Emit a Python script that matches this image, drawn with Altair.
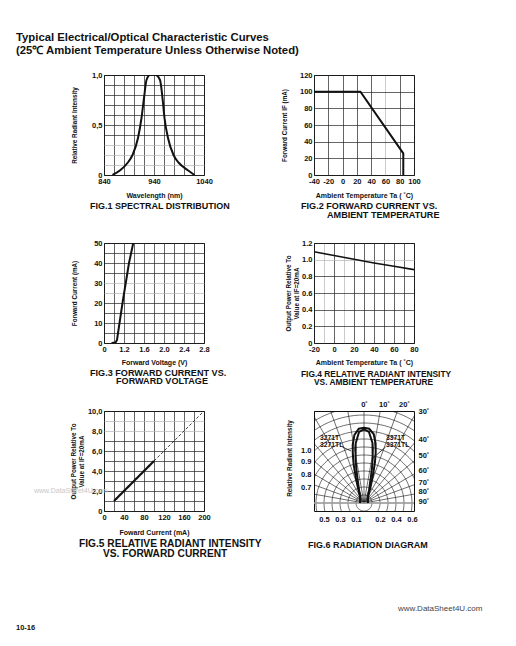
import json
import numpy as np
import pandas as pd
import altair as alt

FONT = "Liberation Sans"
INK = "#111111"
PALE = "#b4b4b4"

# ---------------- page texts ----------------
HEADING_1 = "Typical Electrical/Optical Characteristic Curves"
HEADING_2 = "(25\u2103 Ambient Temperature Unless Otherwise Noted)"
PAGE_NO = "10-16"
SITE = "www.DataSheet4U.com"

# ---------------- FIG.1 spectral distribution ----------------
F1_WL = [857, 873, 887, 897, 908, 915, 920, 925, 932, 943, 952, 957, 961, 968, 979, 990, 1007, 1021]
F1_I = [0, 0.05, 0.12, 0.2, 0.37, 0.57, 0.77, 0.95, 1.0, 1.0, 0.95, 0.77, 0.57, 0.37, 0.2, 0.12, 0.05, 0]
F1_XGRID = [840, 860, 880, 900, 920, 940, 960, 980, 1000, 1020, 1040]
F1_XLV = [840, 940, 1040]
F1_XL = ["840", "940", "1040"]
F1_YGRID = [0, 0.1, 0.2, 0.3, 0.4, 0.5, 0.6, 0.7, 0.8, 0.9, 1.0]
F1_YLV = [0, 0.5, 1.0]
F1_YL = ["0", "0,5", "1,0"]
F1_YPALE = [0.1, 0.2, 0.3]

# ---------------- FIG.2 forward current vs ambient temperature ----------------
F2_T = [-40, 25, 85, 85]
F2_IF = [100, 100, 26, 0]
F2_XGRID = [-40, -20, 0, 20, 40, 60, 80, 100]
F2_XL = ["-40", "-20", "0", "20", "40", "60", "80", "100"]
F2_XPALE = [60]
F2_YGRID = [0, 20, 40, 60, 80, 100, 120]
F2_YL = ["0", "20", "40", "60", "80", "100", "120"]

# ---------------- FIG.3 forward current vs forward voltage ----------------
F3_V = [0.95, 1.03, 1.06, 1.17, 1.30, 1.385]
F3_I = [0, 0.2, 1.5, 20, 40, 50]
F3_XGRID = [0.8, 1.0, 1.2, 1.4, 1.6, 1.8, 2.0, 2.2, 2.4, 2.6, 2.8]
F3_XLV = [0.8, 1.2, 1.6, 2.0, 2.4, 2.8]
F3_XL = ["0", "1.2", "1.6", "2.0", "2.4", "2.8"]
F3_YGRID = [0, 5, 10, 15, 20, 25, 30, 35, 40, 45, 50]
F3_YLV = [0, 10, 20, 30, 40, 50]
F3_YL = ["0", "10", "20", "30", "40", "50"]
F3_YPALE = [25, 30]

# ---------------- FIG.4 relative radiant intensity vs temperature ----------------
F4_T = [-20, 0, 20, 40, 60, 80]
F4_P = [1.095, 1.05, 1.005, 0.96, 0.92, 0.88]
F4_XGRID = [-20, -10, 0, 10, 20, 30, 40, 50, 60, 70, 80]
F4_XLV = [-20, 0, 20, 40, 60, 80]
F4_XL = ["-20", "0", "20", "40", "60", "80"]
F4_XPALE = [-10, 10]
F4_YGRID = [0, 0.2, 0.4, 0.6, 0.8, 1.0, 1.2]
F4_YL = ["0", "0.2", "0.4", "0.6", "0.8", "1.0", "1.2"]
F4_YPALE = [1.0]

# ---------------- FIG.5 relative radiant intensity vs forward current ----------------
F5_IF = [20, 100, 100, 200]
F5_P = [1.0, 5.0, 5.0, 10.0]
F5_SEG = ["measured", "measured", "extrapolated", "extrapolated"]
F5_XGRID = [0, 20, 40, 60, 80, 100, 120, 140, 160, 180, 200]
F5_XLV = [0, 40, 80, 120, 160, 200]
F5_XL = ["0", "40", "80", "120", "160", "200"]
F5_YGRID = [0, 1, 2, 3, 4, 5, 6, 7, 8, 9, 10]
F5_YLV = [0, 2, 4, 6, 8, 10]
F5_YL = ["0", "2,0", "4,0", "6,0", "8,0", "10,0"]
F5_YPALE = [8, 9]

# ---------------- FIG.6 radiation diagram ----------------
F6_ANG = [-90, -45, -30, -22, -18, -15, -13, -11, -8, -4, 0, 4, 8, 11, 13, 15, 18, 22, 30, 45, 90]
F6_3271 = [0.05, 0.06, 0.10, 0.20, 0.33, 0.50, 0.62, 0.74, 0.86, 0.93, 0.94, 0.93, 0.87, 0.76, 0.65, 0.53, 0.36, 0.22, 0.11, 0.06, 0.05]
F6_3371 = [0.05, 0.07, 0.10, 0.16, 0.22, 0.31, 0.42, 0.55, 0.75, 0.89, 0.92, 0.89, 0.76, 0.57, 0.44, 0.33, 0.23, 0.17, 0.10, 0.07, 0.05]
F6_RINGS = [0.1, 0.2, 0.3, 0.4, 0.5, 0.6, 0.7, 0.8, 0.9, 1.0, 1.1, 1.2, 1.3, 1.4]
F6_SPOKES = [-90, -80, -70, -60, -50, -40, -30, -20, -10, 0, 10, 20, 30, 40, 50, 60, 70, 80, 90]
F6_BOTV = [-0.5, -0.3, -0.1, 0.2, 0.4, 0.6]
F6_BOTL = ["0.5", "0.3", "0.1", "0.2", "0.4", "0.6"]
F6_TOPV = [0.0, 0.25, 0.5]
F6_TOPL = ["0\u02da", "10\u02da", "20\u02da"]
F6_LEFTV = [0.66, 0.525, 0.36, 0.2]
F6_LEFTL = ["1.0", "0.9", "0.8", "0.7"]
F6_RIGHTV = [1.14, 0.79, 0.59, 0.41, 0.26, 0.14, 0.025]
F6_RIGHTL = ["30\u02da", "40\u02da", "50\u02da", "60\u02da", "70\u02da", "80\u02da", "90\u02da"]
F6_LBL_X = [-0.55, -0.55, 0.275, 0.275]
F6_LBL_Y = [0.81, 0.725, 0.81, 0.725]
F6_LBL = ["3271T", "3271TL", "3371T", "3371TL"]
F6_LEAD_X = [-0.27, 0.27]
F6_LEAD_Y = [0.70, 0.70]
F6_LEAD_X2 = [-0.16, 0.11]
F6_LEAD_Y2 = [0.65, 0.56]

W = H = 100


def lab_expr(vals, labs):
    v = json.dumps(vals)
    l = json.dumps(labs, ensure_ascii=False)
    return f"indexof({v}, datum.value) >= 0 ? {l}[indexof({v}, datum.value)] : ''"


def grid_color(pale):
    if not pale:
        return "#222222"
    return {"condition": {"test": f"indexof({json.dumps(pale)}, datum.value) >= 0", "value": PALE},
            "value": "#222222"}


def xaxis(grid, lv, ls, title, ty, pale=None):
    return alt.Axis(values=grid, labelExpr=lab_expr(lv, ls), title=title, titleX=W / 2, titleY=ty,
                    titleBaseline="middle", titleAlign="center", titleFontSize=7,
                    gridColor=grid_color(pale))


def yaxis(grid, lv, ls, title, tx, pale=None):
    return alt.Axis(values=grid, labelExpr=lab_expr(lv, ls), title=title, titleX=tx, titleY=H / 2,
                    titleAngle=270, titleBaseline="middle", titleAlign="center", titleFontSize=6.3,
                    gridColor=grid_color(pale))


def line(xs, ys, xdom, ydom, xax, yax, width=2.0, interp="linear"):
    df = pd.DataFrame({"x": xs, "y": ys, "i": list(range(len(xs)))})
    return alt.Chart(df).mark_line(color=INK, strokeWidth=width, interpolate=interp, clip=True).encode(
        x=alt.X("x:Q", scale=alt.Scale(domain=xdom, nice=False, zero=False), axis=xax),
        y=alt.Y("y:Q", scale=alt.Scale(domain=ydom, nice=False, zero=False), axis=yax),
        order="i:Q",
    )


def text(s, x, y, size=9.0, weight="bold", color=INK, align="left"):
    return alt.Chart(pd.DataFrame({"t": [s]})).mark_text(
        font=FONT, fontSize=size, fontWeight=weight, color=color, align=align, baseline="middle"
    ).encode(text="t:N", x=alt.value(x), y=alt.value(y))


# ---------------- panels ----------------
f1 = alt.layer(
    line(F1_WL, F1_I, [840, 1040], [0, 1],
         xaxis(F1_XGRID, F1_XLV, F1_XL, "Wavelength (nm)", 20),
         yaxis(F1_YGRID, F1_YLV, F1_YL, "Relative Radiant Intensity", -30, F1_YPALE),
         width=2, interp="monotone"),
    text("FIG.1  SPECTRAL DISTRIBUTION", -14, 131, size=9.0),
    text(HEADING_1, -88, -37, size=11.3),
    text(HEADING_2, -88, -24, size=11.3),
).properties(width=W, height=H)

f2 = alt.layer(
    line(F2_T, F2_IF, [-40, 100], [0, 120],
         xaxis(F2_XGRID, F2_XGRID, F2_XL, "Ambient Temperature Ta ( \u02daC)", 20, F2_XPALE),
         yaxis(F2_YGRID, F2_YGRID, F2_YL, "Forward Current IF (mA)", -30), width=2),
    text("FIG.2  FORWARD CURRENT VS.", -13, 131, size=9.1),
    text("AMBIENT TEMPERATURE", 13, 140, size=9.1),
).properties(width=W, height=H)

f3 = alt.layer(
    line(F3_V, F3_I, [0.8, 2.8], [0, 50],
         xaxis(F3_XGRID, F3_XLV, F3_XL, "Forward Voltage (V)", 19),
         yaxis(F3_YGRID, F3_YLV, F3_YL, "Forward Current (mA)", -30, F3_YPALE), width=2),
    text("FIG.3  FORWARD CURRENT VS.", -14, 130, size=9.1),
    text("FORWARD VOLTAGE", 12, 138, size=9.1),
).properties(width=W, height=H)

f4 = alt.layer(
    line(F4_T, F4_P, [-20, 80], [0, 1.2],
         xaxis(F4_XGRID, F4_XLV, F4_XL, "Ambient Temperature Ta ( \u02daC)", 19, F4_XPALE),
         yaxis(F4_YGRID, F4_YGRID, F4_YL, ["Output Power Relative To", "Value at IF=20mA"], -26, F4_YPALE),
         width=1.6),
    text("FIG.4  RELATIVE RADIANT INTENSITY", -13, 131, size=8.4),
    text("VS. AMBIENT TEMPERATURE", 0, 139, size=8.4),
).properties(width=W, height=H)

f5_df = pd.DataFrame({"x": F5_IF, "y": F5_P, "seg": F5_SEG, "i": list(range(len(F5_IF)))})
f5_line = alt.Chart(f5_df).mark_line(color=INK, clip=True).encode(
    x=alt.X("x:Q", scale=alt.Scale(domain=[0, 200], nice=False, zero=False),
            axis=xaxis(F5_XGRID, F5_XLV, F5_XL, "Foward Current (mA)", 21)),
    y=alt.Y("y:Q", scale=alt.Scale(domain=[0, 10], nice=False, zero=False),
            axis=yaxis(F5_YGRID, F5_YLV, F5_YL, ["Output Power Relative To", "Value at IF=20mA"], -31, F5_YPALE)),
    detail="seg:N",
    order="i:Q",
    strokeWidth=alt.StrokeWidth("seg:N", scale=alt.Scale(domain=["measured", "extrapolated"], range=[2.2, 0.8]),
                                legend=None),
    strokeDash=alt.StrokeDash("seg:N", scale=alt.Scale(domain=["measured", "extrapolated"], range=[[1, 0], [3, 2]]),
                              legend=None),
)

f5 = alt.layer(
    f5_line,
    text(SITE, -70, 80, size=7, weight="normal", color="#c8c8c8"),
    text("FIG.5  RELATIVE RADIANT INTENSITY", -25, 133, size=10.2),
    text("VS. FORWARD CURRENT", -1, 143, size=10.2),
    text(PAGE_NO, -88, 217, size=7.5),
).properties(width=W, height=H)

# radiation diagram geometry
ring_rows = []
for r in F6_RINGS:
    for k, a in enumerate(range(-180, 181, 3)):
        ring_rows.append({"r": r, "a": a, "i": k})
rings = pd.DataFrame(ring_rows)
spoke_rows = []
for a in F6_SPOKES:
    spoke_rows.append({"a": a, "r": 0.0, "i": 0})
    spoke_rows.append({"a": a, "r": 2.0, "i": 1})
spokes = pd.DataFrame(spoke_rows)
lobes = pd.DataFrame({
    "a": F6_ANG + F6_ANG,
    "r": F6_3271 + F6_3371,
    "s": ["3271"] * len(F6_ANG) + ["3371"] * len(F6_ANG),
    "i": list(range(len(F6_ANG))) * 2,
})

XS6 = alt.Scale(domain=[-0.625, 0.625], nice=False, zero=False)
YS6 = alt.Scale(domain=[-0.1, 1.15], nice=False, zero=False)
polar_x = "datum.r * sin(datum.a * PI / 180)"
polar_y = "datum.r * cos(datum.a * PI / 180)"

ax_bottom = alt.Axis(orient="bottom", values=F6_BOTV, labelExpr=lab_expr(F6_BOTV, F6_BOTL), grid=False,
                     title=None, labelPadding=4)
ax_left = alt.Axis(orient="left", values=F6_LEFTV, labelExpr=lab_expr(F6_LEFTV, F6_LEFTL), grid=False,
                   title="Relative Radiant Intensity", titleX=-25, titleY=47, titleAngle=270,
                   titleBaseline="middle", titleAlign="center", titleFontSize=6.3, labelPadding=3)
ax_top = alt.Axis(orient="top", values=F6_TOPV, labelExpr=lab_expr(F6_TOPV, F6_TOPL), grid=False,
                  title=None, labelPadding=3)
ax_right = alt.Axis(orient="right", values=F6_RIGHTV, labelExpr=lab_expr(F6_RIGHTV, F6_RIGHTL), grid=False,
                    title=None, labelPadding=4)

g_rings = alt.Chart(rings).transform_calculate(px=polar_x, py=polar_y).mark_line(
    color=INK, strokeWidth=0.6, clip=True
).encode(x=alt.X("px:Q", scale=XS6, axis=ax_bottom), y=alt.Y("py:Q", scale=YS6, axis=ax_left),
         detail="r:N", order="i:Q")
g_spokes = alt.Chart(spokes).transform_calculate(px=polar_x, py=polar_y).mark_line(
    color=INK, strokeWidth=0.6, clip=True
).encode(x=alt.X("px:Q", scale=XS6, axis=None), y=alt.Y("py:Q", scale=YS6, axis=None),
         detail="a:N", order="i:Q")
g_base = alt.Chart(pd.DataFrame({"x": [-0.625], "x2": [0.625], "y": [0.0]})).mark_rule(
    color="#aaaaaa", strokeWidth=1.6
).encode(x=alt.X("x:Q", scale=XS6, axis=None), x2="x2:Q", y=alt.Y("y:Q", scale=YS6, axis=None))
g_lobes = alt.Chart(lobes).transform_calculate(px=polar_x, py=polar_y).mark_line(
    color=INK, strokeWidth=2, clip=True
).encode(x=alt.X("px:Q", scale=XS6, axis=ax_top), y=alt.Y("py:Q", scale=YS6, axis=ax_right),
         detail="s:N", order="i:Q")
g_labels = alt.Chart(pd.DataFrame({"x": F6_LBL_X, "y": F6_LBL_Y, "t": F6_LBL})).mark_text(
    font=FONT, fontSize=6.8, fontWeight="bold", color=INK, align="left", baseline="middle"
).encode(x=alt.X("x:Q", scale=XS6, axis=None), y=alt.Y("y:Q", scale=YS6, axis=None), text="t:N")
g_leads = alt.Chart(pd.DataFrame({"x": F6_LEAD_X, "y": F6_LEAD_Y, "x2": F6_LEAD_X2, "y2": F6_LEAD_Y2})).mark_rule(
    color=INK, strokeWidth=0.8
).encode(x=alt.X("x:Q", scale=XS6, axis=None), y=alt.Y("y:Q", scale=YS6, axis=None), x2="x2:Q", y2="y2:Q")

f6 = alt.layer(
    g_rings, g_spokes, g_base, g_lobes, g_labels, g_leads,
    text("FIG.6  RADIATION DIAGRAM", -6, 134, size=9.0),
    text(SITE, 84, 198, size=8, weight="normal", color="#444444"),
).resolve_axis(x="independent", y="independent").properties(width=W, height=H)

chart = alt.concat(
    f1, f2, f3, f4, f5, f6, columns=2, spacing={"row": 68, "column": 110}, bounds="flush"
).properties(
    padding={"left": 7, "top": 23, "right": 5, "bottom": 5},
    background="white",
).configure_view(stroke=INK, strokeWidth=1).configure_axis(
    grid=True, gridColor="#222222", gridWidth=0.7, gridOpacity=1, ticks=False, domain=False,
    labelFont=FONT, labelFontSize=7.5, labelFontWeight="bold", labelColor=INK, labelPadding=2,
    labelFlush=False, labelOverlap=False, labelBound=False,
    titleFont=FONT, titleFontWeight="bold", titleColor=INK,
)

chart.save("out.html", embed_options={"renderer": "svg", "actions": False})
